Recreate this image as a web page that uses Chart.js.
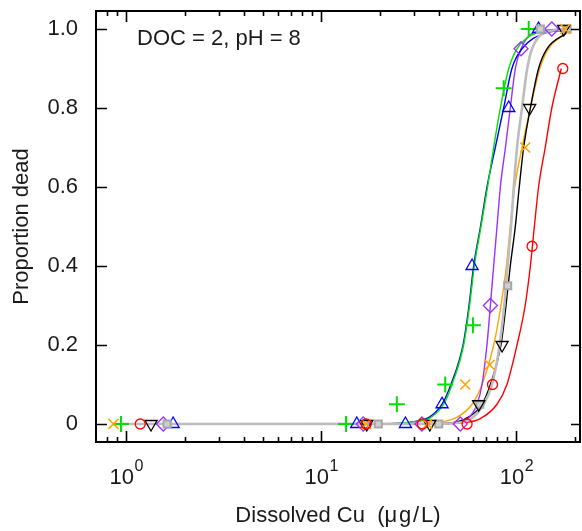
<!DOCTYPE html>
<html>
<head>
<meta charset="utf-8">
<script src="https://cdn.jsdelivr.net/npm/chart.js@4/dist/chart.umd.min.js"></script>
<style>
  html, body { margin: 0; padding: 0; background: #fff; overflow: hidden; }
  #wrap { width: 582px; height: 531px; }
</style>
</head>
<body>
<div id="wrap"><canvas id="myChart"></canvas></div>
<script>
// observed mortality, one series per test
const greenX = [0.94, 13.4, 24.4, 43.2, 59.9, 86.1, 115.7];
const greenY = [0, 0, 0.05, 0.1, 0.25, 0.85, 1.0];
const blueX = [1.74, 15.2, 27, 41.6, 59.3, 91.4, 130];
const blueY = [0, 0, 0, 0.05, 0.4, 0.8, 1.0];
const purpleX = [1.55, 16.4, 32.8, 51.6, 73.6, 105.7, 152];
const purpleY = [0, 0, 0, 0, 0.3, 0.95, 1.0];
const blackX = [1.34, 17.1, 36, 64.1, 84.5, 117, 175];
const blackY = [0, 0, 0, 0.05, 0.2, 0.8, 1.0];
const grayX = [1.62, 19.6, 40, 65, 90.3, 132.8, 182];
const grayY = [0, 0, 0, 0.05, 0.35, 1.0, 1.0];
const orangeX = [0.86, 17, 35, 54.7, 73, 111, 178];
const orangeY = [0, 0, 0, 0.1, 0.15, 0.7, 1.0];
const redX = [1.18, 17, 33, 55.9, 75.5, 120.4, 173];
const redY = [0, 0, 0, 0, 0.1, 0.45, 0.9];

// fitted dose-response curves
const greenFitX = [0.86, 20, 30, 36, 42.4, 46.8, 53.7, 57.6, 60.9, 65.9, 71.2, 76.5, 82.8, 91.4, 100.8, 127, 181];
const greenFitY = [0, 0.0005, 0.006, 0.015, 0.05, 0.1, 0.2, 0.3, 0.4, 0.5, 0.6, 0.7, 0.8, 0.9, 0.95, 0.99, 0.999];
const blueFitX = [0.86, 20, 30, 36, 41.6, 46.2, 53.3, 57.2, 60.4, 65.5, 70.7, 78, 86.1, 94.9, 106.9, 141, 181];
const blueFitY = [0, 0.0005, 0.006, 0.018, 0.05, 0.1, 0.2, 0.3, 0.4, 0.5, 0.6, 0.7, 0.8, 0.9, 0.95, 0.99, 0.997];
const purpleFitX = [0.86, 40, 50, 56, 62.9, 66.7, 70.7, 73.6, 76.5, 79.6, 82.8, 87.9, 93.1, 98.8, 105.7, 122, 181];
const purpleFitY = [0, 0.0003, 0.003, 0.012, 0.05, 0.1, 0.2, 0.3, 0.4, 0.5, 0.6, 0.7, 0.8, 0.9, 0.95, 0.99, 1.0];
const orangeFitX = [0.86, 30, 40, 50, 59.3, 66.7, 76.5, 83.4, 88.9, 93.1, 98, 107, 118, 132, 146, 175, 181];
const orangeFitY = [0, 0.0005, 0.004, 0.018, 0.05, 0.1, 0.2, 0.3, 0.4, 0.5, 0.6, 0.7, 0.8, 0.9, 0.95, 0.985, 0.99];
const blackFitX = [0.86, 40, 50, 58, 66.7, 73.6, 83.4, 88.5, 93.1, 98.8, 103.5, 109, 118, 130, 143.5, 181];
const blackFitY = [0, 0.001, 0.006, 0.02, 0.05, 0.1, 0.2, 0.3, 0.4, 0.5, 0.6, 0.7, 0.8, 0.9, 0.95, 0.99];
const grayFitX = [0.86, 40, 50, 58, 68, 75, 82.1, 86.7, 90.2, 93.9, 97, 100.8, 106.9, 113.7, 120.4, 138, 181];
const grayFitY = [0, 0.0004, 0.003, 0.012, 0.05, 0.1, 0.2, 0.3, 0.4, 0.5, 0.6, 0.7, 0.8, 0.9, 0.95, 0.99, 0.999];
const redFitX = [0.86, 45, 55, 65, 79.6, 89.5, 100.8, 111, 118, 123.7, 130, 140.6, 152, 170];
const redFitY = [0, 0.001, 0.004, 0.013, 0.05, 0.1, 0.2, 0.3, 0.4, 0.5, 0.6, 0.7, 0.8, 0.9];

// axis ticks
const xMajor = [1, 10, 100];
const xMinor = [0.8, 0.9, 2, 3, 4, 5, 6, 7, 8, 9, 20, 30, 40, 50, 60, 70, 80, 90, 200];
const yTicks = [0, 0.2, 0.4, 0.6, 0.8, 1.0];

const FONT = "'Liberation Sans', Arial, sans-serif";
const TXT = '#1a1a1a';

const pts = (xs, ys) => xs.map((v, i) => ({ x: v, y: ys[i] }));

function curve(xs, ys, color, width, order) {
  return {
    data: pts(xs, ys),
    showLine: true,
    borderColor: color,
    borderWidth: width,
    pointRadius: 0,
    cubicInterpolationMode: 'monotone',
    fill: false,
    order: order,
  };
}

function marks(xs, ys, color, style, radius, extra) {
  return Object.assign({
    data: pts(xs, ys),
    showLine: false,
    pointStyle: style,
    pointRadius: radius,
    pointBorderColor: color,
    pointBackgroundColor: 'rgba(0,0,0,0)',
    pointBorderWidth: 1.3,
    clip: false,
    order: 0,
  }, extra || {});
}

// no extra room for label overhang, the frame sits at fixed edges
function noPad(s) {
  s.paddingTop = 0; s.paddingBottom = 0;
  s.paddingLeft = 0; s.paddingRight = 0;
}

// frame, inward ticks on all four sides, 10^n labels and the panel note
const frame = {
  id: 'frame',
  afterDraw(chart) {
    const { ctx, chartArea: a, scales: { x, y } } = chart;
    ctx.save();
    ctx.strokeStyle = '#000';
    ctx.lineWidth = 2;
    ctx.strokeRect(a.left, a.top, a.right - a.left, a.bottom - a.top);

    ctx.lineWidth = 1.6;
    ctx.beginPath();
    const tickX = (v, len) => {
      const px = Math.round(x.getPixelForValue(v)) + 0.5;
      ctx.moveTo(px, a.bottom); ctx.lineTo(px, a.bottom - len);
      ctx.moveTo(px, a.top); ctx.lineTo(px, a.top + len);
    };
    xMajor.forEach(v => tickX(v, 11));
    xMinor.forEach(v => tickX(v, 5));
    yTicks.forEach(v => {
      const py = Math.round(y.getPixelForValue(v)) + 0.5;
      ctx.moveTo(a.left, py); ctx.lineTo(a.left + 11, py);
      ctx.moveTo(a.right, py); ctx.lineTo(a.right - 9, py);
    });
    ctx.stroke();

    ctx.fillStyle = TXT;
    ctx.textBaseline = 'alphabetic';
    xMajor.forEach(v => {
      const base = '10';
      const exp = String(Math.round(Math.log10(v)));
      ctx.font = '22px ' + FONT;
      const wb = ctx.measureText(base).width;
      ctx.font = '16px ' + FONT;
      const we = ctx.measureText(exp).width;
      const left = x.getPixelForValue(v) - (wb + we) / 2;
      ctx.font = '22px ' + FONT;
      ctx.textAlign = 'left';
      ctx.fillText(base, left, 484);
      ctx.font = '16px ' + FONT;
      ctx.fillText(exp, left + wb + 0.5, 471);
    });

    ctx.font = '22px ' + FONT;
    ctx.textAlign = 'left';
    ctx.textBaseline = 'middle';
    ctx.fillText('DOC = 2, pH = 8', a.left + 41, a.top + 28);
    ctx.restore();
  }
};

const grafico = new Chart('myChart', {
  type: 'scatter',
  data: {
    datasets: [
      curve(redFitX, redFitY, '#ff0000', 1.4, 8),
      curve(orangeFitX, orangeFitY, '#ffa500', 1.4, 7),
      curve(blackFitX, blackFitY, '#000000', 1.4, 6),
      curve(purpleFitX, purpleFitY, '#9b30ff', 1.4, 5),
      curve(blueFitX, blueFitY, '#0000ff', 1.4, 4),
      curve(greenFitX, greenFitY, '#00e000', 1.4, 3),
      curve(grayFitX, grayFitY, '#bdbdbd', 2.6, 2),
      marks(redX, redY, '#ff0000', 'circle', 5),
      marks(orangeX, orangeY, '#ffa500', 'crossRot', 7, { pointBorderWidth: 1.6 }),
      marks(blackX, blackY, '#000000', 'triangle', 7, { pointRotation: 180 }),
      marks(grayX, grayY, '#a8a8a8', 'rect', 5, { pointBackgroundColor: '#cfcfcf', pointBorderWidth: 2 }),
      marks(purpleX, purpleY, '#9b30ff', 'rectRot', 7),
      marks(blueX, blueY, '#0000ff', 'triangle', 7),
      marks(greenX, greenY, '#00e000', 'cross', 8, { pointBorderWidth: 2 }),
    ],
  },
  options: {
    responsive: true,
    maintainAspectRatio: false,
    animation: false,
    layout: { autoPadding: false, padding: { top: 11, right: 2, left: 0, bottom: 0 } },
    plugins: { legend: { display: false }, tooltip: { enabled: false } },
    scales: {
      x: {
        type: 'logarithmic',
        min: 0.7,
        max: 212,
        grid: { display: false },
        border: { display: false },
        ticks: { display: false },
        afterFit: s => { s.height = 89; noPad(s); },
        title: {
          display: true,
          text: 'Dissolved Cu  (\u03bc\u200ag\u200a/\u200aL)',
          color: TXT,
          font: { family: FONT, size: 22 },
          padding: { top: 0, bottom: 2 },
        },
      },
      y: {
        min: -0.0456,
        max: 1.0456,
        grid: { display: false, drawTicks: false },
        border: { display: false },
        afterBuildTicks: s => { s.ticks = yTicks.map(v => ({ value: v })); },
        afterFit: s => { s.width = 96; noPad(s); },
        ticks: {
          padding: 18,
          color: TXT,
          font: { family: FONT, size: 22 },
          callback: v => (v === 0 ? '0' : v.toFixed(1)),
        },
        title: {
          display: true,
          text: 'Proportion dead',
          color: TXT,
          font: { family: FONT, size: 22 },
          padding: { top: 9, bottom: 0 },
        },
      },
    },
  },
  plugins: [frame],
});
</script>
</body>
</html>
